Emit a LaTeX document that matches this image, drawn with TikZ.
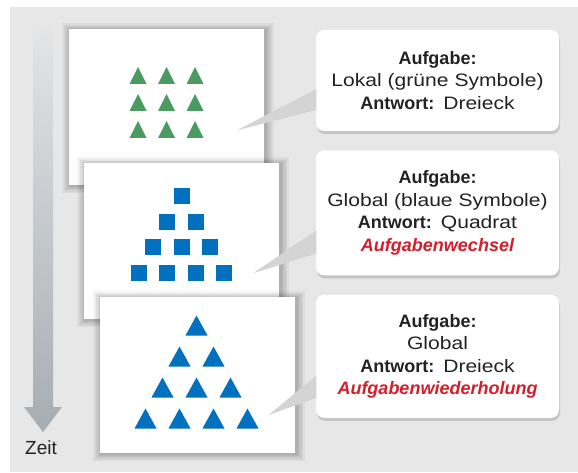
\documentclass[tikz,border=0pt]{standalone}
\usepackage{fontspec}
\setmainfont{Liberation Sans}
\newfontfamily\widefont[FakeStretch=1.17]{Liberation Sans}
\usetikzlibrary{positioning,calc,shadows}

\definecolor{bggray}{HTML}{E7E7E7}
\definecolor{arrowtop}{HTML}{E2E4E6}
\definecolor{arrowmid}{HTML}{B6BCC1}
\definecolor{arrowbot}{HTML}{A6ADB3}
\definecolor{symgreen}{HTML}{4A9A62}
\definecolor{symblue}{HTML}{0070BF}
\definecolor{taskred}{HTML}{D21F2B}
\definecolor{textdark}{HTML}{222222}

\newcommand{\reg}[1]{{\widefont #1}}
\newcommand{\hint}[1]{\textcolor{taskred}{\bfseries\itshape #1}}

\begin{document}
\begin{tikzpicture}[x=1pt, y=1pt,
    every node/.style={text=textdark, font=\fontsize{18}{22.5}\selectfont},
    soft/.style={general shadow={fill=black, opacity=0.045, shadow scale=#1,
      shadow xshift=1.5pt, shadow yshift=-1pt}},
    card/.style={fill=white, minimum width=195pt, minimum height=156pt, inner sep=0pt,
      soft=1.085, soft=1.07, soft=1.055, soft=1.04, soft=1.025, soft=1.012},
    taskbox/.style={fill=white, rounded corners=8pt, minimum width=243pt, text width=235pt,
      align=center, inner sep=4pt,
      drop shadow={shadow xshift=1pt, shadow yshift=-3pt, fill=black, opacity=0.15}},
    wedge/.style={fill=black!17}]

    \useasboundingbox (0,0) rectangle (578,472);
    \fill[bggray] (10,0) rectangle (578,465);

    % time arrow
    \shade[top color=arrowtop, middle color=arrowmid, bottom color=arrowbot]
      (33,442) -- (53,442) -- (53,65) -- (62,65) -- (43,40) -- (24,65) -- (33,65) -- cycle;
    \node[font=\fontsize{19}{22}\selectfont] (zeit) at (41,24) {Zeit};

    % cards
    \node[card] (card1) at (166.5,365) {};
    \node[card] (card2) at ($(card1)+(15,-134)$) {};
    \node[card] (card3) at ($(card2)+(16,-134)$) {};

    % green triangles
    \foreach \i in {-1,0,1} {
      \foreach \j in {-1,0,1} {
        \fill[symgreen] ($(card1)+(\i*28.5-8.5, 4.5-\j*27-8.5)$) -- ++(17,0) -- ++(-8.5,17) -- cycle;
      }
    }
    % blue squares
    \foreach \r in {0,...,3} {
      \foreach \c in {0,...,\r} {
        \fill[symblue] ($(card2)+(\c*28.5-\r*14.25, 45-\r*25.7)$) +(-8,-8) rectangle +(8,8);
      }
    }
    % blue triangles
    \foreach \r in {0,...,3} {
      \foreach \c in {0,...,\r} {
        \fill[symblue] ($(card3)+(\c*34-\r*17-1-11, 49.5-\r*31-10)$) -- ++(22,0) -- ++(-11,20) -- cycle;
      }
    }

    % task boxes
    \node[taskbox, minimum height=101pt] (task1) at (437.5,391.5)
      {{\bfseries Aufgabe:}\\ \reg{Lokal (grüne Symbole)}\\ {\bfseries Antwort:} \reg{Dreieck}};
    \node[taskbox, minimum height=125pt, below=19pt of task1] (task2)
      {{\bfseries Aufgabe:}\\ \reg{Global (blaue Symbole)}\\ {\bfseries Antwort:} \reg{Quadrat}\\ \hint{Aufgabenwechsel}};
    \node[taskbox, minimum height=123pt, below=19pt of task2] (task3)
      {{\bfseries Aufgabe:}\\ \reg{Global}\\ {\bfseries Antwort:} \reg{Dreieck}\\ \hint{Aufgabenwiederholung}};

    % pointers
    \coordinate (tip1) at ($(card1.south east)+(-27,55)$);
    \coordinate (tip2) at ($(card2.south east)+(-26,46)$);
    \coordinate (tip3) at ($(card3.south east)+(-27,38)$);
    \fill[wedge] ($(task1.west)+(0.5,-8.5)$) -- (tip1) -- ($(task1.west)+(0.5,-29.5)$) -- cycle;
    \fill[wedge] ($(task2.west)+(0.5,-17.5)$) -- (tip2) -- ($(task2.west)+(0.5,-40.5)$) -- cycle;
    \fill[wedge] ($(task3.west)+(0.5,-19.5)$) -- (tip3) -- ($(task3.west)+(0.5,-41.5)$) -- cycle;
\end{tikzpicture}
\end{document}
